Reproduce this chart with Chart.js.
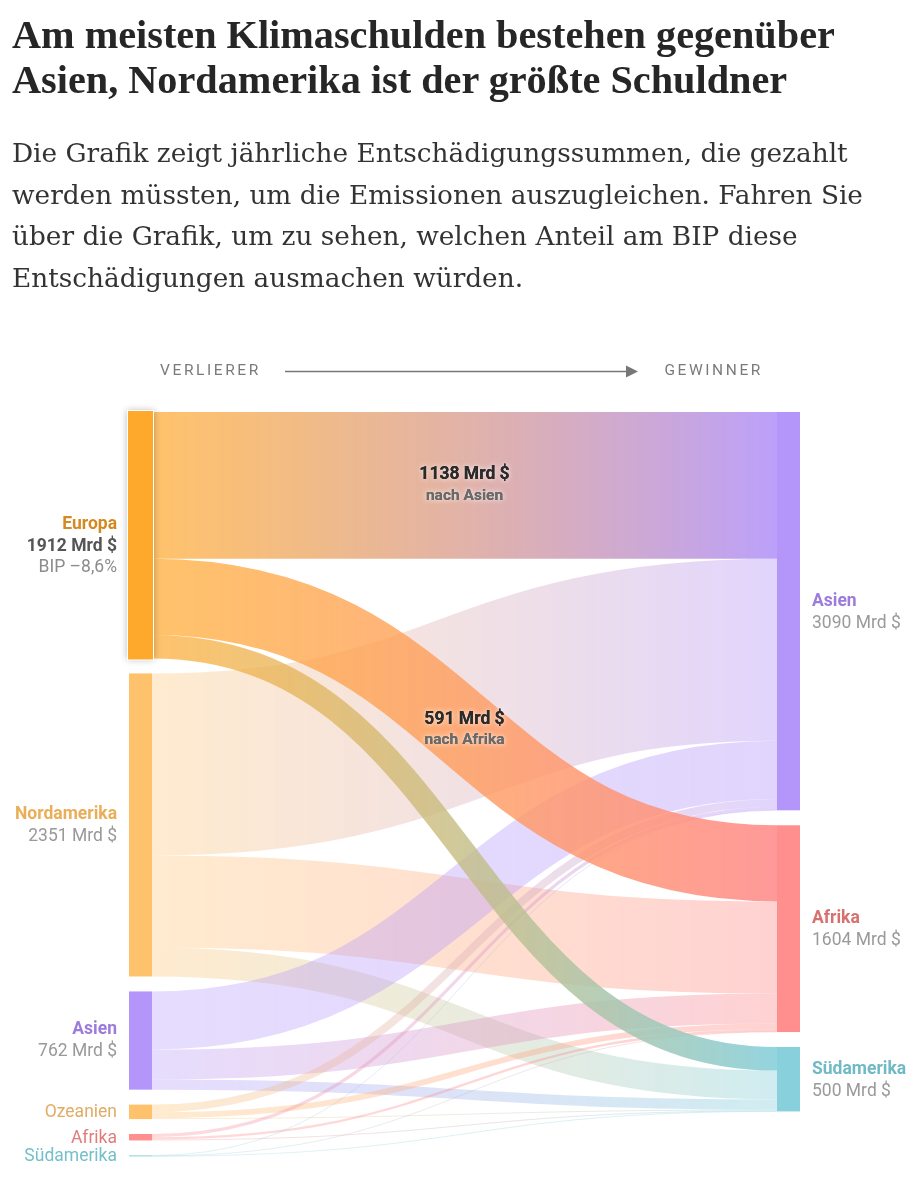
<!DOCTYPE html>
<html lang="de"><head><meta charset="utf-8">
<script src="https://cdn.jsdelivr.net/npm/chart.js@4.4.1/dist/chart.umd.min.js"></script>
<style>
html,body{margin:0;padding:0;background:#fff;width:920px;height:1200px;overflow:hidden;}
#c{position:absolute;left:0;top:0;}
.txt{position:absolute;left:12px;white-space:nowrap;}
#title{top:12px;font-family:"Liberation Serif",serif;font-weight:bold;font-size:36px;line-height:45px;color:#262626;}
#desc{top:133px;font-family:"DejaVu Serif",serif;font-size:24px;line-height:41.5px;color:#333;}
</style></head>
<body>
<canvas id="c" width="920" height="1200"></canvas>
<div id="title" class="txt"><span>Am meisten Klimaschulden bestehen gegenüber</span><br><span>Asien, Nordamerika ist der größte Schuldner</span></div>
<div id="desc" class="txt"><span>Die Grafik zeigt jährliche Entschädigungssummen, die gezahlt</span><br><span>werden müssten, um die Emissionen auszugleichen. Fahren Sie</span><br><span>über die Grafik, um zu sehen, welchen Anteil am BIP diese</span><br><span>Entschädigungen ausmachen würden.</span></div>
<script>
// ---------- DATA (Mrd $ per year) ----------
const sources = ['Europa', 'Nordamerika', 'Asien', 'Ozeanien', 'Afrika', 'Südamerika'];
const targets = ['Asien', 'Afrika', 'Südamerika'];
const toAsien       = [1138, 1413, 451, 60, 25, 3];
const toAfrika      = [591, 714, 233, 45, 18, 3];
const toSuedamerika = [183, 224, 78, 7, 7, 1];
const sourceNotes   = ['BIP –8,6%', '', '', '', '', ''];
const targetPhrases = ['nach Asien', 'nach Afrika', 'nach Südamerika'];
const highlightedSource = 'Europa';
const headerLeft = 'VERLIERER';
const headerRight = 'GEWINNER';

// ---------- STYLE ----------
const nodeColor = {Europa:'#FFA92C', Nordamerika:'#FFC26C', Asien:'#B496FA', Ozeanien:'#FFC26C', Afrika:'#FF8E8E', 'Südamerika':'#88D0DB'};
const srcLabelColor = {Europa:'#D48A22', Nordamerika:'#EAAE58', Asien:'#9C7BDC', Ozeanien:'#E0AC66', Afrika:'#E07C7C', 'Südamerika':'#74BFCA'};
const tgtLabelColor = {Asien:'#9C7BDC', Afrika:'#D97070', 'Südamerika':'#6FBAC5'};
const FONT = 'Roboto, "Noto Sans", sans-serif';
const LBL = 17.5;       // label font size px
const GAP = 116;        // gap between nodes, in value units
const NODE_W = 23;      // px

const flows = [toAsien, toAfrika, toSuedamerika];
const srcTot = sources.map((s, i) => flows.reduce((a, f) => a + f[i], 0));
const tgtTot = flows.map(f => f.reduce((a, b) => a + b, 0));
const srcStart = []; let acc = 0;
srcTot.forEach((t, i) => { srcStart.push(acc); acc += t + GAP; });
const yMax = acc - GAP;
const tgtStart = []; acc = 0;
tgtTot.forEach((t) => { tgtStart.push(acc); acc += t + GAP; });

function rgba(hex, a){ const n = parseInt(hex.slice(1), 16); return `rgba(${n>>16},${(n>>8)&255},${n&255},${a})`; }

const sankeyPlugin = {
  id: 'sankey',
  beforeDatasetsDraw(chart){
    const {ctx, scales:{x, y}} = chart;
    const xL = x.getPixelForValue(0), xR = x.getPixelForValue(1);
    const x0 = xL + NODE_W, x1 = xR - NODE_W, xm = (x0 + x1) / 2;
    const links = [];
    sources.forEach((s, i) => {
      let so = srcStart[i];
      targets.forEach((t, j) => {
        const v = flows[j][i];
        let to = tgtStart[j];
        for (let k = 0; k < i; k++) to += flows[j][k];
        links.push({s, t, i, j, v, sy0: so, sy1: so + v, ty0: to, ty1: to + v});
        so += v;
      });
    });
    const drawLink = (L, hi) => {
      const ys0 = y.getPixelForValue(L.sy0), ys1 = y.getPixelForValue(L.sy1);
      const yt0 = y.getPixelForValue(L.ty0), yt1 = y.getPixelForValue(L.ty1);
      const w = Math.max(0.8, ys1 - ys0);
      const yc0 = (ys0 + ys1) / 2, yc1 = (yt0 + yt1) / 2;
      const g = ctx.createLinearGradient(x0, 0, x1, 0);
      g.addColorStop(0, rgba(nodeColor[L.s], hi ? 0.7 : 0.33));
      g.addColorStop(1, rgba(nodeColor[L.t], hi ? 0.9 : 0.4));
      ctx.save();
      ctx.beginPath();
      ctx.moveTo(x0, yc0);
      ctx.bezierCurveTo(xm, yc0, xm, yc1, x1, yc1);
      ctx.lineWidth = w; ctx.lineCap = 'butt'; ctx.strokeStyle = g;
      ctx.stroke();
      ctx.restore();
    };
    links.filter(L => L.s !== highlightedSource).forEach(L => drawLink(L, false));
    links.filter(L => L.s === highlightedSource).forEach(L => drawLink(L, true));

    // nodes
    sources.forEach((s, i) => {
      const ya = y.getPixelForValue(srcStart[i]), yb = y.getPixelForValue(srcStart[i] + srcTot[i]);
      const h = Math.max(1, yb - ya);
      ctx.save();
      if (s === highlightedSource) {
        ctx.shadowColor = 'rgba(0,0,0,0.28)'; ctx.shadowBlur = 7;
        ctx.fillStyle = '#fff';
        ctx.fillRect(xL - 2, ya - 2, NODE_W + 4, h + 4);
        ctx.shadowBlur = 0; ctx.shadowColor = 'transparent';
        ctx.fillStyle = nodeColor[s];
        ctx.fillRect(xL - 1, ya - 1, NODE_W + 2, h + 2);
      } else {
        ctx.fillStyle = nodeColor[s];
        ctx.fillRect(xL, ya, NODE_W, h);
      }
      ctx.restore();
    });
    targets.forEach((t, j) => {
      const ya = y.getPixelForValue(tgtStart[j]), yb = y.getPixelForValue(tgtStart[j] + tgtTot[j]);
      ctx.fillStyle = nodeColor[t];
      ctx.fillRect(xR - NODE_W, ya, NODE_W, yb - ya);
    });

    // labels
    ctx.save();
    ctx.textBaseline = 'middle';
    sources.forEach((s, i) => {
      const ya = y.getPixelForValue(srcStart[i]), yb = y.getPixelForValue(srcStart[i] + srcTot[i]);
      const cy = (ya + yb) / 2, lx = xL - 12;
      ctx.textAlign = 'right';
      if (yb - ya < 40) {
        ctx.font = `400 ${LBL}px ${FONT}`; ctx.fillStyle = srcLabelColor[s];
        ctx.fillText(s, lx, cy + 1);
        return;
      }
      const hi = s === highlightedSource;
      ctx.font = `700 ${LBL}px ${FONT}`; ctx.fillStyle = srcLabelColor[s];
      ctx.fillText(s, lx, cy - 10.5);
      ctx.font = `${hi ? 700 : 400} ${LBL}px ${FONT}`; ctx.fillStyle = hi ? '#555' : '#999';
      ctx.fillText(`${srcTot[i]} Mrd $`, lx, cy + 11.5);
      if (hi && sourceNotes[i]) {
        ctx.font = `400 ${LBL}px ${FONT}`; ctx.fillStyle = '#8c8c8c';
        ctx.fillText(sourceNotes[i], lx, cy + 32.5);
      }
    });
    targets.forEach((t, j) => {
      const ya = y.getPixelForValue(tgtStart[j]), yb = y.getPixelForValue(tgtStart[j] + tgtTot[j]);
      const cy = (ya + yb) / 2, lx = xR + 12;
      ctx.textAlign = 'left';
      ctx.font = `700 ${LBL}px ${FONT}`; ctx.fillStyle = tgtLabelColor[t];
      ctx.fillText(t, lx, cy - 10);
      ctx.font = `400 ${LBL}px ${FONT}`; ctx.fillStyle = '#9a9a9a';
      ctx.fillText(`${tgtTot[j]} Mrd $`, lx, cy + 12);
    });
    // flow labels on highlighted links
    links.filter(L => L.s === highlightedSource && L.v > 400).forEach(L => {
      const yc = (y.getPixelForValue((L.sy0 + L.sy1) / 2) + y.getPixelForValue((L.ty0 + L.ty1) / 2)) / 2;
      ctx.textAlign = 'center';
      for (let pass = 0; pass < 2; pass++) {
        ctx.shadowColor = pass === 0 ? 'rgba(255,255,255,0.95)' : 'transparent';
        ctx.shadowBlur = pass === 0 ? 5 : 0;
        ctx.font = `700 ${LBL}px ${FONT}`; ctx.fillStyle = '#2b2b2b';
        ctx.fillText(`${L.v} Mrd $`, xm, yc - 10.5);
        ctx.font = `700 15.5px ${FONT}`; ctx.fillStyle = '#6a6a6a';
        ctx.fillText(targetPhrases[L.j], xm, yc + 10.5);
      }
    });
    ctx.restore();

    // header with arrow
    ctx.save();
    ctx.font = `400 15.5px ${FONT}`; ctx.fillStyle = '#7a7a7a';
    ctx.textBaseline = 'middle';
    try { ctx.letterSpacing = '2.6px'; } catch(e) {}
    ctx.textAlign = 'left'; ctx.fillText(headerLeft, 160, 371);
    ctx.textAlign = 'right'; ctx.fillText(headerRight, 763, 371);
    ctx.strokeStyle = '#777'; ctx.lineWidth = 1.4;
    ctx.beginPath(); ctx.moveTo(285, 371.5); ctx.lineTo(628, 371.5); ctx.stroke();
    ctx.fillStyle = '#777';
    ctx.beginPath(); ctx.moveTo(638, 371.5); ctx.lineTo(626, 365.5); ctx.lineTo(626, 377.5); ctx.closePath(); ctx.fill();
    ctx.restore();
  }
};

const nodePoints = sources.map((s, i) => ({x: 0, y: srcStart[i] + srcTot[i] / 2}))
  .concat(targets.map((t, j) => ({x: 1, y: tgtStart[j] + tgtTot[j] / 2})));

new Chart(document.getElementById('c'), {
  type: 'scatter',
  data: {datasets: [{data: nodePoints, pointRadius: 0, pointHoverRadius: 0}]},
  options: {
    responsive: false, animation: false, events: [],
    layout: {padding: {left: 129, right: 120, top: 412, bottom: 43.7}},
    scales: {
      x: {type: 'linear', min: 0, max: 1, display: false},
      y: {type: 'linear', min: 0, max: yMax, reverse: true, display: false}
    },
    plugins: {legend: {display: false}, tooltip: {enabled: false}}
  },
  plugins: [sankeyPlugin]
});

// fit headline/description widths to the reference layout
function fit(id, target){
  const el = document.getElementById(id);
  const w = el.querySelector('span').getBoundingClientRect().width;
  const fs = parseFloat(getComputedStyle(el).fontSize);
  el.style.fontSize = (fs * target / w).toFixed(2) + 'px';
}
fit('title', 823);
fit('desc', 836);
</script>
</body></html>
